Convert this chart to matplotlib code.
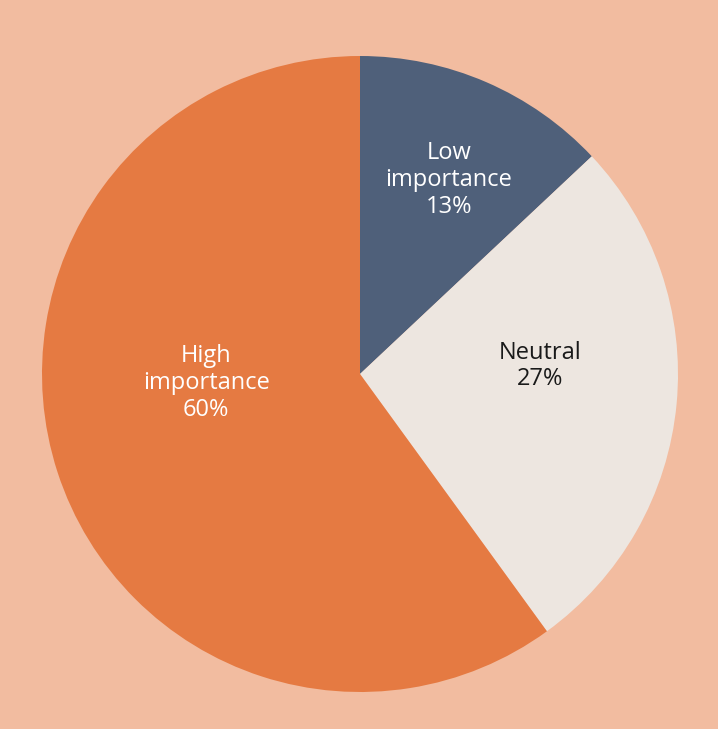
import matplotlib
matplotlib.use("Agg")
import matplotlib.pyplot as plt

categories = ["Low\nimportance", "Neutral", "High\nimportance"]
values = [13, 27, 60]
colors = ["#4F607A", "#EDE6E0", "#E57A42"]
text_colors = ["white", "#1a1a1a", "white"]
# label positions (axes data coords, pie radius = 1)
label_pos = [(0.28, 0.61), (0.566, 0.025), (-0.484, -0.028)]

plt.rcParams['font.family'] = ['Open Sans', 'DejaVu Sans']

bg = "#F2BCA0"
fig = plt.figure(figsize=(7.18, 7.29), dpi=100, facecolor=bg)
ax = fig.add_axes([42/718, 37/729, 636/718, 636/729])
ax.set_facecolor(bg)
ax.pie(values, colors=colors, startangle=90, counterclock=False,
       radius=1, wedgeprops=dict(linewidth=0))
ax.set_xlim(-1, 1)
ax.set_ylim(-1, 1)
ax.set_aspect('auto')
ax.axis('off')

for cat, v, (x, y), tc in zip(categories, values, label_pos, text_colors):
    ax.text(x, y, f"{cat}\n{v}%", ha='center', va='center', color=tc,
            fontsize=17, linespacing=1.15)

fig.savefig("out.png", dpi=100, facecolor=bg)
